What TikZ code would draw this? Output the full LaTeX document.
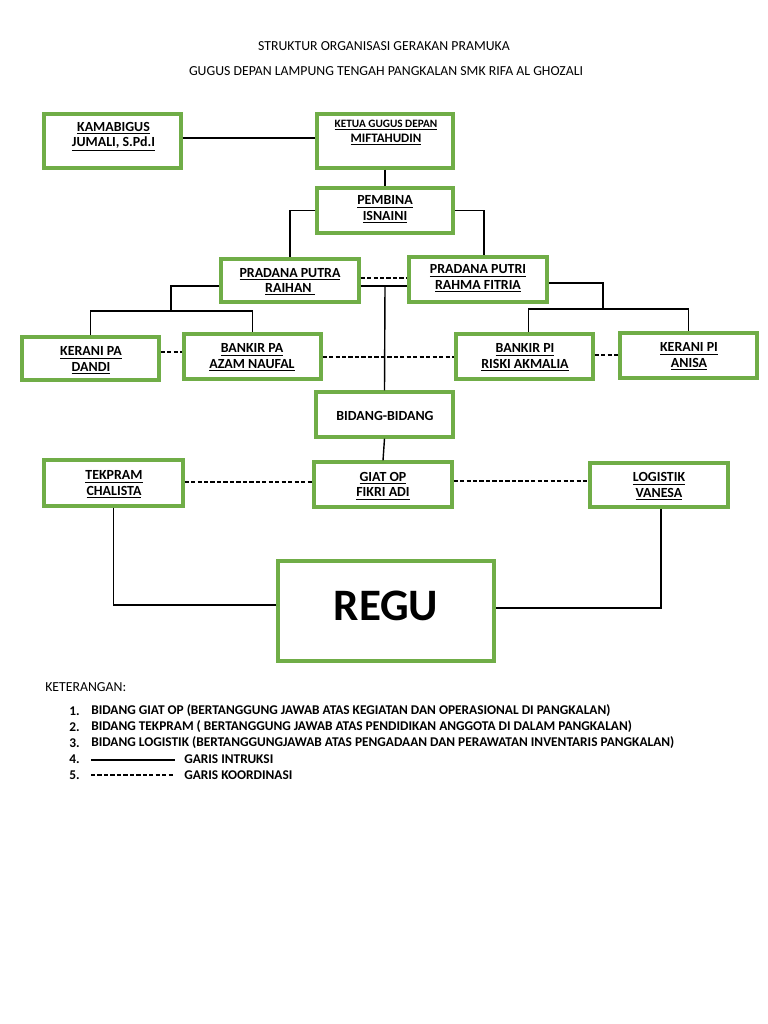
\documentclass[tikz,border=0pt]{standalone}
\usepackage{fontspec}
\setmainfont{Carlito}
\usetikzlibrary{positioning}

\newcommand{\pxu}{0.025cm}
\definecolor{boxgreen}{RGB}{112,173,71}

\tikzset{
  box/.style={draw=boxgreen, line width=2.3pt, fill=white, inner sep=0pt},
  boxtext/.style={font=\fontsize{9.9}{10.9}\selectfont\bfseries, align=center, inner sep=0pt},
  titletext/.style={font=\fontsize{9.8}{11}\selectfont, inner sep=0pt},
  legendtext/.style={font=\fontsize{9.5}{10}\selectfont\bfseries, anchor=west, inner sep=0pt},
  instruksi/.style={line width=1pt, black},
  koordinasi/.style={line width=1pt, black, dash pattern=on 3pt off 1.6pt},
}

\begin{document}
\begin{tikzpicture}[x=\pxu, y=-\pxu]
\fill[white] (0,0) rectangle (768,1024);
\useasboundingbox (0,0) rectangle (768,1024);

% judul
\node (judul1) at (384,46) [titletext] {STRUKTUR ORGANISASI GERAKAN PRAMUKA};
\node (judul2) at (386,71) [titletext] {GUGUS DEPAN LAMPUNG TENGAH PANGKALAN SMK RIFA AL GHOZALI};

% kotak
\node (kamabigus) at (112.5,141) [box, minimum width=137*\pxu, minimum height=54*\pxu] {};
\node (ketua) at (385,141) [box, minimum width=136*\pxu, minimum height=54*\pxu] {};
\node (pembina) at (385,210.5) [box, minimum width=136*\pxu, minimum height=45*\pxu] {};
\node (putra) at (290,280.5) [box, minimum width=138*\pxu, minimum height=43*\pxu] {};
\node (putri) at (478,279.5) [box, minimum width=138*\pxu, minimum height=45*\pxu] {};
\node (keranipa) at (90.5,358.5) [box, minimum width=137*\pxu, minimum height=43*\pxu] {};
\node (bankirpa) at (252.5,356.5) [box, minimum width=137*\pxu, minimum height=45*\pxu] {};
\node (bankirpi) at (524.5,356.5) [box, minimum width=137*\pxu, minimum height=45*\pxu] {};
\node (keranipi) at (688.5,355.5) [box, minimum width=137*\pxu, minimum height=45*\pxu] {};
\node (bidang) at (384.5,414.5) [box, minimum width=137*\pxu, minimum height=45*\pxu] {};
\node (tekpram) at (113.5,483) [box, minimum width=139*\pxu, minimum height=46*\pxu] {};
\node (giat) at (383,484.5) [box, minimum width=138*\pxu, minimum height=45*\pxu] {};
\node (logistik) at (659,485) [box, minimum width=138*\pxu, minimum height=44*\pxu] {};
\node (regu) at (386,611) [box, minimum width=216*\pxu, minimum height=100*\pxu] {};

% isi kotak
\node (kamabigus-t) at (113.5,136.5) [boxtext] {\underline{KAMABIGUS}\\\underline{JUMALI, S.Pd.I}};
\node (ketua-t) at (386,132.5) [boxtext] {{\fontsize{8}{10.9}\selectfont\underline{KETUA GUGUS DEPAN}}\\{\fontsize{9.2}{10.9}\selectfont\underline{MIFTAHUDIN}}};
\node (pembina-t) at (385,209.5) [boxtext] {\underline{PEMBINA}\\\underline{ISNAINI}};
\node (putra-t) at (290,282) [boxtext] {\underline{PRADANA PUTRA}\\\underline{RAIHAN\ }};
\node (putri-t) at (478,278.5) [boxtext] {\underline{PRADANA PUTRI}\\\underline{RAHMA FITRIA}};
\node (keranipa-t) at (91,360.5) [boxtext] {\underline{KERANI PA}\\\underline{DANDI}};
\node (bankirpa-t) at (252,357.5) [boxtext] {\underline{BANKIR PA}\\\underline{AZAM NAUFAL}};
\node (bankirpi-t) at (525,357.5) [boxtext] {\underline{BANKIR PI}\\\underline{RISKI AKMALIA}};
\node (keranipi-t) at (689,356.5) [boxtext] {\underline{KERANI PI}\\\underline{ANISA}};
\node (bidang-t) at (385,416) [boxtext] {BIDANG-BIDANG};
\node (tekpram-t) at (114,484.5) [boxtext] {\underline{TEKPRAM}\\\underline{CHALISTA}};
\node (giat-t) at (383,486) [boxtext] {\underline{GIAT OP}\\\underline{FIKRI ADI}};
\node (logistik-t) at (659,486.5) [boxtext] {\underline{LOGISTIK}\\\underline{VANESA}};
\node (regu-t) at (386,606) [font=\fontsize{32}{34}\selectfont\bfseries, inner sep=0pt] {REGU};

% garis instruksi
\draw[instruksi] (kamabigus.east |- 0,138) -- (ketua.west |- 0,138);
\draw[instruksi] (ketua.south) -- (pembina.north);
\draw[instruksi] (pembina.west) -| (putra.north);
\draw[instruksi] (pembina.east) -| ([xshift=6*\pxu]putri.north);
\draw[instruksi] (putra.east |- 0,286) -- (putri.west |- 0,286);
\coordinate (tengah) at (385,286);
\draw[instruksi] (tengah) -- (bidang.north);
\draw[instruksi] (putra.west |- 0,286) -| (171,311);
\draw[instruksi] (keranipa.north) |- (bankirpa.north |- 0,311) -- (bankirpa.north);
\draw[instruksi] (putri.east |- 0,283) -| (603,309);
\draw[instruksi] ([xshift=4*\pxu]bankirpi.north) |- (keranipi.north |- 0,309) -- (keranipi.north);
\draw[instruksi] (bidang.south) -- (giat.north);
\draw[instruksi] (tekpram.south) |- (regu.west |- 0,605);
\draw[instruksi] ([xshift=2*\pxu]logistik.south) |- (regu.east |- 0,608);

% garis koordinasi
\draw[koordinasi] (putra.east |- 0,278) -- (putri.west |- 0,278);
\draw[koordinasi] (keranipa.east |- 0,352) -- (bankirpa.west |- 0,352);
\draw[koordinasi] (bankirpa.east |- 0,357) -- (bankirpi.west |- 0,357);
\draw[koordinasi] (bankirpi.east |- 0,355) -- (keranipi.west |- 0,355);
\draw[koordinasi] (tekpram.east |- 0,482) -- (giat.west |- 0,482);
\draw[koordinasi] (giat.east |- 0,481) -- (logistik.west |- 0,481);

% keterangan
\node (ket) at (45,687) [legendtext, font=\fontsize{9.8}{10}\selectfont] {KETERANGAN:};
\node (no1) at (69,711) [legendtext] {1.};
\node (no2) at (69,727) [legendtext] {2.};
\node (no3) at (69,743) [legendtext] {3.};
\node (no4) at (69,759) [legendtext] {4.};
\node (no5) at (69,775) [legendtext] {5.};
\node (ket1) at (91,711) [legendtext] {BIDANG GIAT OP (BERTANGGUNG JAWAB ATAS KEGIATAN DAN OPERASIONAL DI PANGKALAN)};
\node (ket2) at (91,727) [legendtext] {BIDANG TEKPRAM ( BERTANGGUNG JAWAB ATAS PENDIDIKAN ANGGOTA DI DALAM PANGKALAN)};
\node (ket3) at (91,743) [legendtext] {BIDANG LOGISTIK (BERTANGGUNGJAWAB ATAS PENGADAAN DAN PERAWATAN INVENTARIS PANGKALAN)};
\coordinate (garis4a) at (91,760);
\coordinate (garis4b) at (175,760);
\draw[instruksi] (garis4a) -- (garis4b);
\node (ket4) at (184,759) [legendtext] {GARIS INTRUKSI};
\coordinate (garis5a) at (91,775);
\coordinate (garis5b) at (174,775);
\draw[koordinasi] (garis5a) -- (garis5b);
\node (ket5) at (184,775) [legendtext] {GARIS KOORDINASI};
\end{tikzpicture}
\end{document}
